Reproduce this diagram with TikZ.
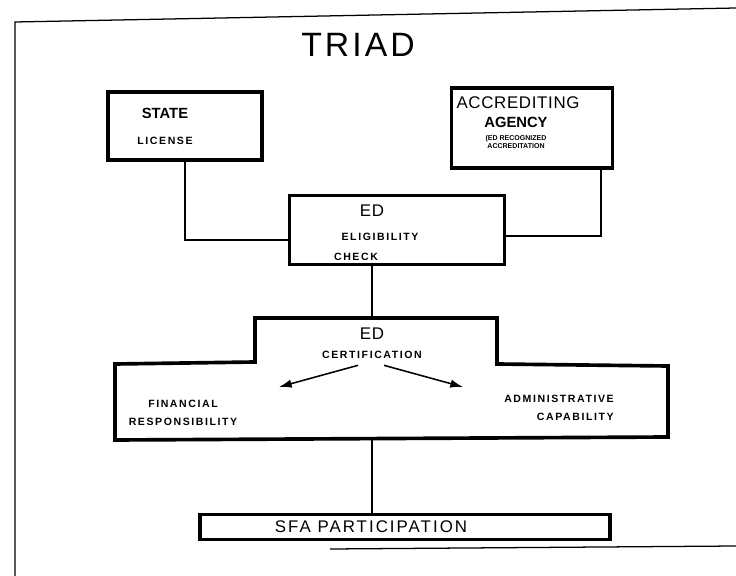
\documentclass[tikz,border=0pt]{standalone}
\usepackage{fontspec}
\setsansfont{Liberation Sans}
\usetikzlibrary{positioning, calc, arrows.meta}

\begin{document}
\begin{tikzpicture}[%
    x=0.025cm, y=-0.025cm,
    >={Latex[length=9pt,width=6pt]},
    every node/.style={%
      font=\sffamily\bfseries\fontsize{7.5}{8}\selectfont\addfontfeatures{LetterSpace=15},
      text=black,
      text centered,
      align=center,
      inner sep=0pt
    },
    box/.style={draw=black, line width=2.6pt, fill=white},
    wire/.style={draw=black, line width=1.1pt},
    rim/.style={draw=black, line width=0.9pt},
    head/.style={font=\sffamily\fontsize{12}{13}\selectfont\addfontfeatures{LetterSpace=4}},
    headb/.style={font=\sffamily\bfseries\fontsize{10.5}{12}\selectfont},
    small/.style={font=\sffamily\bfseries\fontsize{5}{5.5}\selectfont},
    part/.style={font=\sffamily\bfseries\fontsize{7.5}{13}\selectfont\addfontfeatures{LetterSpace=15}}
  ]

  \useasboundingbox[fill=white] (0,0) rectangle (736,576);

  % Frame
  \coordinate (fa) at (15,22);
  \coordinate (fb) at (736,8);
  \coordinate (fc) at (15,576);
  \coordinate (fd) at (330,549);
  \coordinate (fe) at (736,546);
  \draw[rim] (fb) -- (fa) -- (fc);
  \draw[rim] (fd) -- (fe);

  \node[font=\sffamily\fontsize{24}{24}\selectfont\addfontfeatures{LetterSpace=9}] (title) at (358,45) {TRIAD};

  % Boxes
  \node[box, minimum width=3.85cm, minimum height=1.7cm] (state) at (185,126) {};
  \node[box, minimum width=4.025cm, minimum height=2.0cm] (accr) at (532,128) {};
  \node[box, minimum width=5.375cm, minimum height=1.725cm] (elig) at (397,230) {};
  \node[box, minimum width=10.25cm, minimum height=0.625cm] (sfa) at (405,527) {};

  \node[headb] (t1) at (165,113) {STATE};
  \node[below=0.45cm of t1] (t2) {LICENSE};

  \node[head] (a1) at (518,103) {ACCREDITING};
  \node[headb, below=0.18cm of a1, xshift=-0.05cm] (a2) {AGENCY};
  \node[small, below=0.2cm of a2, xshift=0cm] (a3) {(ED RECOGNIZED\\ACCREDITATION};

  \node[head] (e1) at (372,211) {ED};
  \node[below=0.4cm of e1, xshift=0.2cm] (e2) {ELIGIBILITY};
  \node[below=0.3cm of e2, xshift=-0.6cm] (e3) {CHECK};

  \node[font=\sffamily\fontsize{12}{13}\selectfont\addfontfeatures{LetterSpace=12}] (s1) at (371,527) {SFA PARTICIPATION};

  % Certification outline
  \coordinate (ctop) at (372,318);
  \coordinate (cbot) at (372,439);
  \draw[box, fill=none]
    (255,318) -- (497,318) -- (497,364) -- (668,366) -- (668,437)
    -- (115,440) -- (115,364) -- (255,362) -- cycle;

  \node[head] (c1) at (372,334) {ED};
  \node[below=0.28cm of c1] (c2) {CERTIFICATION};
  \coordinate (fin) at (279,387);
  \coordinate (adm) at (463,387);
  \draw[wire, ->] ([xshift=-0.35cm, yshift=-0.15cm]c2.south) -- (fin);
  \draw[wire, ->] ([xshift=0.3cm, yshift=-0.15cm]c2.south) -- (adm);

  \node[part] (f1) at (183,413) {FINANCIAL\\RESPONSIBILITY};
  \node[part, align=right, anchor=east] (d1) at (614,408) {ADMINISTRATIVE\\CAPABILITY};

  % Connectors
  \draw[wire] (state.south) |- ([yshift=-0.25cm]elig.west);
  \draw[wire] ([xshift=-0.33cm]accr.south east) |- ([yshift=-0.15cm]elig.east);
  \draw[wire] (elig.south -| ctop) -- (ctop);
  \draw[wire] (cbot) -- (sfa.north -| cbot);

\end{tikzpicture}
\end{document}
